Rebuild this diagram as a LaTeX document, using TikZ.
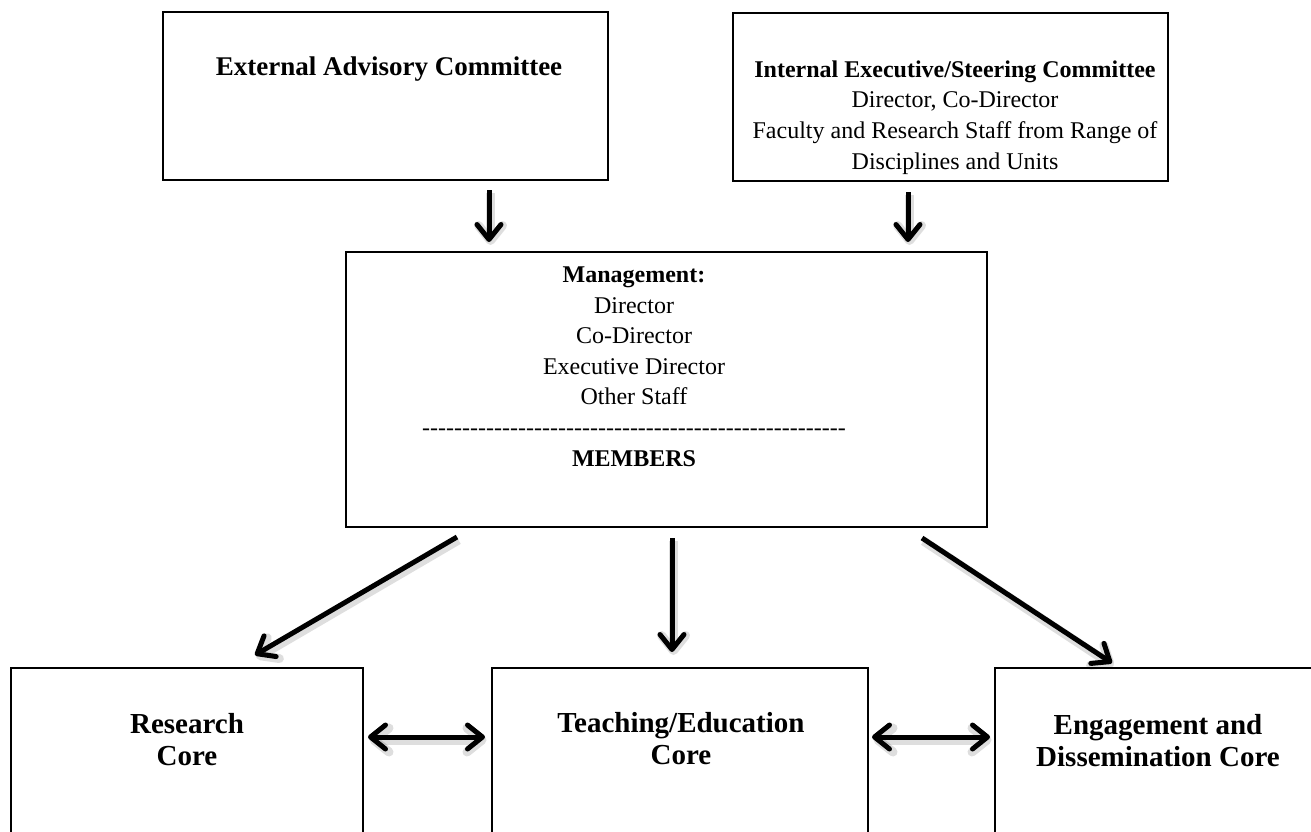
\documentclass[tikz,border=0pt]{standalone}
\usepackage{fontspec}
\setmainfont{Liberation Serif}
\usetikzlibrary{arrows.meta}

% a row of hyphens, kept apart so that they never join into dashes
\newcount\hycnt
\newcommand\hyphenrow[1]{\hycnt=0 \loop -\kern0pt\advance\hycnt by 1 \ifnum\hycnt<#1 \repeat}

\tikzset{
  box/.style={draw, line width=2.6pt, inner sep=0pt, outer sep=0pt},
  label/.style={inner sep=0pt, outer sep=0pt, align=center, anchor=north},
  body/.style={label, font=\fontsize{24}{30.6}\selectfont},
  corelabel/.style={label, font=\fontsize{29}{32}\selectfont\bfseries},
  barb/.tip={Straight Barb[length=15pt,width=24pt,round]},
  soft shadow/.style={preaction={draw=black, draw opacity=0.13, line width=9pt,
      transform canvas={shift={(1.5pt,-3pt)}}}},
  arr/.style={soft shadow, line width=5pt, -barb},
  twoway/.style={soft shadow, line width=5pt, barb-barb}
}

\begin{document}
\begin{tikzpicture}[x=1pt,y=-1pt]
\useasboundingbox (0,0) rectangle (1311,831);
\clip (0,0) rectangle (1311,831);

% committees
\node[box, minimum width=445pt, minimum height=168pt] (ext) at (385.5,96) {};
\node[box, minimum width=435pt, minimum height=168pt] (int) at (950.5,97) {};
\node[label, font=\fontsize{27}{30}\selectfont\bfseries] (extText) at (389,56.6)
  {External Advisory Committee};
\node[body] (intText) at (955,60.7)
  {\textbf{Internal Executive/Steering Committee}\\
   Director, Co-Director\\
   Faculty and Research Staff from Range of\\
   Disciplines and Units};

% management
\node[box, minimum width=641pt, minimum height=275pt] (mgmt) at (666.5,389.5) {};
\node[body] (mgmtText) at (634,266.8)
  {\textbf{Management:}\\
   Director\\
   Co-Director\\
   Executive Director\\
   Other Staff\\
   \hyphenrow{53}\\
   \textbf{MEMBERS}};

% cores (running past the lower edge)
\node[box, minimum width=352pt, minimum height=232pt] (research) at (187,784) {};
\node[box, minimum width=376pt, minimum height=232pt] (teach) at (680,784) {};
\node[box, minimum width=326pt, minimum height=232pt] (engage) at (1158,784) {};
\node[corelabel] (researchText) at (187,713.4) {Research\\Core};
\node[corelabel] (teachText) at (681,712.4) {Teaching/Education\\Core};
\node[corelabel] (engageText) at (1158,714.4) {Engagement and\\Dissemination Core};

% connectors
\draw[arr] ([xshift=103.5pt,yshift=-10pt]ext.south) -- ([xshift=-177.5pt,yshift=10pt]mgmt.north);
\draw[arr] ([xshift=-42.5pt,yshift=-11pt]int.south) -- ([xshift=241.5pt,yshift=10pt]mgmt.north);
\draw[arr] ([xshift=-209.5pt,yshift=-10pt]mgmt.south) -- ([xshift=68pt,yshift=13pt]research.north);
\draw[arr] ([xshift=5.5pt,yshift=-11pt]mgmt.south) -- ([xshift=-8pt,yshift=16pt]teach.north);
\draw[arr] ([xshift=255.5pt,yshift=-11pt]mgmt.south) -- ([xshift=-46pt,yshift=5pt]engage.north);
\draw[twoway] ([xshift=5pt,yshift=47pt]research.east) -- ([xshift=-7pt,yshift=47pt]teach.west);
\draw[twoway] ([xshift=4pt,yshift=47pt]teach.east) -- ([xshift=-5pt,yshift=47pt]engage.west);
\end{tikzpicture}
\end{document}
